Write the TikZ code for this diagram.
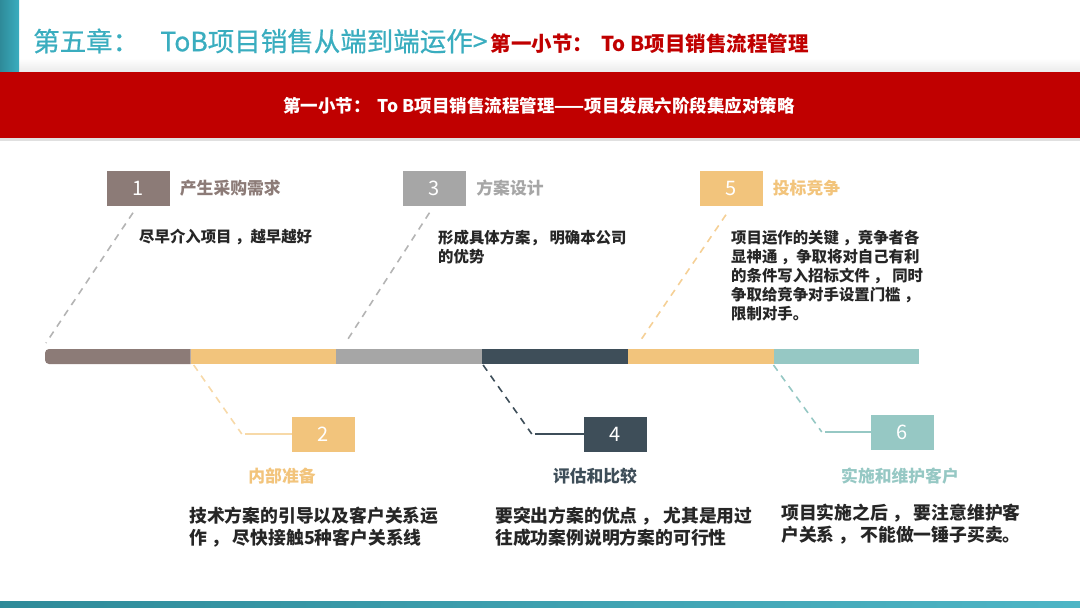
\documentclass[tikz,border=0pt]{standalone}
\usepackage{fontspec}
\setmainfont{Noto Sans CJK SC}
\newfontfamily\titlefont[FakeBold=0.6]{Noto Sans CJK SC}
\usetikzlibrary{positioning}
\definecolor{stageA}{HTML}{8C7B77}
\definecolor{stageB}{HTML}{F2C47C}
\definecolor{stageC}{HTML}{A6A6A6}
\definecolor{stageD}{HTML}{3E4E59}
\definecolor{stageF}{HTML}{96C8C4}
\definecolor{leadgray}{HTML}{B4B4B4}
\definecolor{leadorange}{HTML}{F7D9A8}
\definecolor{titleteal}{HTML}{3AADBF}
\definecolor{bandred}{HTML}{C00000}
\definecolor{notegray}{HTML}{262626}
\tikzset{
  numbox/.style={rectangle, minimum width=63pt, minimum height=35pt, inner sep=0pt, text=white, font=\fontsize{20}{20}\selectfont},
  stage/.style={inner sep=0pt, font=\bfseries\fontsize{16.8}{16.8}\selectfont},
  note/.style={inner sep=0pt, align=left, text=notegray, font=\bfseries\fontsize{15.4}{19}\selectfont},
  bignote/.style={note, font=\bfseries\fontsize{17.8}{21.5}\selectfont},
  seg/.style={rectangle, minimum width=145.7pt, minimum height=15pt, inner sep=0pt, outer sep=0pt},
  lead/.style={dash pattern=on 7pt off 6pt, line width=1.6pt},
  tie/.style={line width=1.6pt}
}
\begin{document}
\begin{tikzpicture}[x=1pt, y=-1pt, node distance=10pt]
\useasboundingbox (0,0) rectangle (1080,608);
% header
\shade[top color=white, bottom color=black!8] (0,58) rectangle (1080,72);
\shade[left color=titleteal!80!black, right color=titleteal] (0,0) rectangle (19,72);
\node[anchor=west, inner sep=0pt, text=titleteal, font=\titlefont\fontsize{26.5}{26.5}\selectfont] (chap) at (33,41) {第五章：\hspace{0.8em}ToB项目销售从端到端运作>};
\node[anchor=base west, inner sep=0pt, text=bandred, font=\bfseries\fontsize{20.5}{20.5}\selectfont] (sec) at ([xshift=3pt]chap.base east) {第一小节：\hspace{0.4em}To B项目销售流程管理};
\fill[black!12] (0,137) rectangle (1080,141);
\fill[bandred] (0,72) rectangle (1080,138);
\node[text=white, font=\bfseries\fontsize{17.5}{17.5}\selectfont] (band) at (539,106) {第一小节：\hspace{0.4em}To B项目销售流程管理——项目发展六阶段集应对策略};
\shade[left color=titleteal!80!black, right color=titleteal!90] (0,601) rectangle (1080,608);

% timeline
\node[seg] (s1) at (117.85,356.5) {};
\fill[stageA] (s1.north east) [rounded corners=4pt] -- (s1.north west) -- (s1.south west) [sharp corners] -- (s1.south east) -- cycle;
\node[seg, fill=stageB, right=0pt of s1] (s2) {};
\node[seg, fill=stageC, right=0pt of s2] (s3) {};
\node[seg, fill=stageD, right=0pt of s3] (s4) {};
\node[seg, fill=stageB, right=0pt of s4] (s5) {};
\node[seg, fill=stageF, right=0pt of s5] (s6) {};

% upper stages
\node[numbox, fill=stageA] (b1) at (138,188) {1};
\node[stage, text=stageA, right=of b1] (t1) {产生采购需求};
\node[numbox, fill=stageC] (b3) at (434.5,188) {3};
\node[stage, text=stageC, right=of b3] (t3) {方案设计};
\node[numbox, fill=stageB] (b5) at (731,188) {5};
\node[stage, text=stageB, right=of b5] (t5) {投标竞争};

\node[note, anchor=north west] (n1) at (139,229) {尽早介入项目 ，越早越好};
\node[note, anchor=north west] (n3) at (438,230) {形成具体方案， 明确本公司\\的优势};
\node[note, anchor=north west] (n5) at (731,230) {项目运作的关键 ，竞争者各\\显神通 ，争取将对自己有利\\的条件写入招标文件 ， 同时\\争取给竞争对手设置门槛 ，\\限制对手。};

\draw[lead, draw=leadgray] ([xshift=-5pt,yshift=-7pt]b1.south) -- ([xshift=1pt,yshift=6pt]s1.north west);
\draw[lead, draw=leadgray] ([xshift=-5pt,yshift=-7pt]b3.south) -- ([xshift=9pt,yshift=6pt]s3.north west);
\draw[lead, draw=stageB!80] ([xshift=-5pt,yshift=-9pt]b5.south) -- ([xshift=11pt,yshift=6pt]s5.north west);

% lower stages
\node[numbox, fill=stageB] (b2) at (323.5,434) {2};
\node[numbox, fill=stageD] (b4) at (615.5,434) {4};
\node[numbox, fill=stageF] (b6) at (902.5,432) {6};
\node[stage, text=stageB] (t2) at (282,476) {内部准备};
\node[stage, text=stageD] (t4) at (595,476) {评估和比较};
\node[stage, text=stageF] (t6) at (900,476) {实施和维护客户};

\node[bignote, anchor=north west] (n2) at (189,507) {技术方案的引导以及客户关系运\\作 ， 尽快接触5种客户关系线};
\node[bignote, anchor=north west] (n4) at (495,507) {要突出方案的优点 ， 尤其是用过\\往成功案例说明方案的可行性};
\node[bignote, anchor=north west] (n6) at (781,504) {项目实施之后 ，\ 要注意维护客\\户关系 ，\ 不能做一锤子买卖。};

\coordinate (k2) at ([xshift=-50pt]b2.west);
\coordinate (k4) at ([xshift=-52pt]b4.west);
\coordinate (k6) at ([xshift=-49pt]b6.west);
\draw[lead, draw=leadorange] ([xshift=3pt,yshift=-1pt]s2.south west) -- (k2);
\draw[tie, draw=leadorange] ([xshift=3pt]k2) -- (b2.west);
\draw[lead, draw=stageD] ([xshift=1pt,yshift=-1pt]s4.south west) -- (k4);
\draw[tie, draw=stageD] ([xshift=3pt]k4) -- (b4.west);
\draw[lead, draw=stageF] ([yshift=-1pt]s6.south west) -- (k6);
\draw[tie, draw=stageF] ([xshift=3pt]k6) -- (b6.west);
\end{tikzpicture}
\end{document}
